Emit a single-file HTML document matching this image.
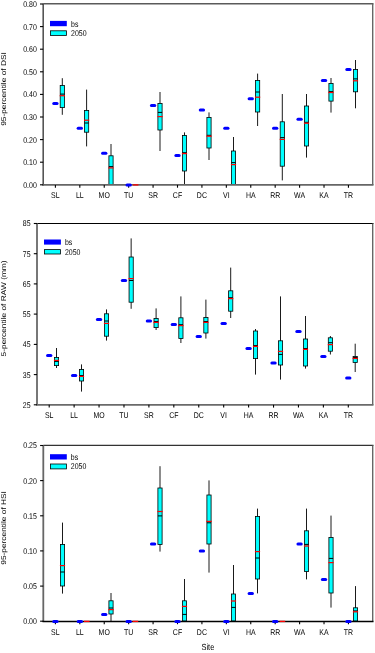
<!DOCTYPE html>
<html><head><meta charset="utf-8"><title>chart</title>
<style>html,body{margin:0;padding:0;background:#fff;}body{width:375px;height:653px;overflow:hidden;}</style>
</head><body>
<svg width="375" height="653" viewBox="0 0 375 653" style="display:block;will-change:transform;text-rendering:geometricPrecision;font-family:'Liberation Sans',sans-serif;font-size:70px;fill:#000">
<rect x="0" y="0" width="375" height="653" fill="#fff"/>
<g id="p1">
<path d="M43.2 3.8H373.5" stroke="#5a5a5a" stroke-width="1.4" fill="none"/>
<path d="M372.7 3.8V184.9" stroke="#666" stroke-width="1.4" fill="none"/>
<path d="M62.30 78.2V114.8" stroke="#000" stroke-width="0.9"/>
<rect x="60.20" y="85.50" width="4.20" height="22.10" fill="#00ffff" stroke="#000" stroke-width="0.8"/>
<path d="M60.20 94.1H64.40" stroke="#000" stroke-width="1"/>
<path d="M59.70 95.7H64.90" stroke="#ff0000" stroke-width="1.25"/>
<path d="M86.60 89.6V146.4" stroke="#000" stroke-width="0.9"/>
<rect x="84.50" y="110.40" width="4.20" height="21.80" fill="#00ffff" stroke="#000" stroke-width="0.8"/>
<path d="M84.50 123H88.70" stroke="#000" stroke-width="1"/>
<path d="M84.00 120.2H89.20" stroke="#ff0000" stroke-width="1.25"/>
<path d="M111.00 144V184.9" stroke="#000" stroke-width="0.9"/>
<rect x="108.90" y="155.80" width="4.20" height="28.70" fill="#00ffff" stroke="#000" stroke-width="0.8"/>
<path d="M108.90 166.6H113.10" stroke="#000" stroke-width="1"/>
<path d="M108.40 167.9H113.60" stroke="#ff0000" stroke-width="1.25"/>
<path d="M160.00 92V151" stroke="#000" stroke-width="0.9"/>
<rect x="157.90" y="103.40" width="4.20" height="26.60" fill="#00ffff" stroke="#000" stroke-width="0.8"/>
<path d="M157.90 112.4H162.10" stroke="#000" stroke-width="1"/>
<path d="M157.40 116.6H162.60" stroke="#ff0000" stroke-width="1.25"/>
<path d="M184.50 132.4V184.9" stroke="#000" stroke-width="0.9"/>
<rect x="182.40" y="135.40" width="4.20" height="35.60" fill="#00ffff" stroke="#000" stroke-width="0.8"/>
<path d="M182.40 152.7H186.60" stroke="#000" stroke-width="1"/>
<path d="M181.90 153.6H187.10" stroke="#ff0000" stroke-width="1.25"/>
<path d="M209.00 112.4V160" stroke="#000" stroke-width="0.9"/>
<rect x="206.90" y="117.40" width="4.20" height="30.60" fill="#00ffff" stroke="#000" stroke-width="0.8"/>
<path d="M206.90 135.29999999999998H211.10" stroke="#000" stroke-width="1"/>
<path d="M206.40 136.2H211.60" stroke="#ff0000" stroke-width="1.25"/>
<path d="M233.50 137V184.9" stroke="#000" stroke-width="0.9"/>
<rect x="231.40" y="151.00" width="4.20" height="33.50" fill="#00ffff" stroke="#000" stroke-width="0.8"/>
<path d="M231.40 162.6H235.60" stroke="#000" stroke-width="1"/>
<path d="M230.90 164.6H236.10" stroke="#ff0000" stroke-width="1.25"/>
<path d="M257.60 73.6V126" stroke="#000" stroke-width="0.9"/>
<rect x="255.50" y="80.40" width="4.20" height="31.60" fill="#00ffff" stroke="#000" stroke-width="0.8"/>
<path d="M255.50 92H259.70" stroke="#000" stroke-width="1"/>
<path d="M255.00 97.2H260.20" stroke="#ff0000" stroke-width="1.25"/>
<path d="M282.30 94V180.4" stroke="#000" stroke-width="0.9"/>
<rect x="280.20" y="121.80" width="4.20" height="44.40" fill="#00ffff" stroke="#000" stroke-width="0.8"/>
<path d="M280.20 137.6H284.40" stroke="#000" stroke-width="1"/>
<path d="M279.70 139.4H284.90" stroke="#ff0000" stroke-width="1.25"/>
<path d="M306.50 94V157.6" stroke="#000" stroke-width="0.9"/>
<rect x="304.40" y="106.00" width="4.20" height="40.00" fill="#00ffff" stroke="#000" stroke-width="0.8"/>
<path d="M304.40 122.3H308.60" stroke="#000" stroke-width="1"/>
<path d="M303.90 123.2H309.10" stroke="#ff0000" stroke-width="1.25"/>
<path d="M331.00 78V112.6" stroke="#000" stroke-width="0.9"/>
<rect x="328.90" y="83.40" width="4.20" height="17.70" fill="#00ffff" stroke="#000" stroke-width="0.8"/>
<path d="M328.90 91.6H333.10" stroke="#000" stroke-width="1"/>
<path d="M328.40 92.5H333.60" stroke="#ff0000" stroke-width="1.25"/>
<path d="M355.50 60V108.3" stroke="#000" stroke-width="0.9"/>
<rect x="353.40" y="69.50" width="4.20" height="22.30" fill="#00ffff" stroke="#000" stroke-width="0.8"/>
<path d="M353.40 78.9H357.60" stroke="#000" stroke-width="1"/>
<path d="M352.90 80.8H358.10" stroke="#ff0000" stroke-width="1.25"/>
<path d="M43.2 3.8V185.4" stroke="#555" stroke-width="1.6" fill="none"/>
<path d="M42.400000000000006 184.9H373.5" stroke="#666" stroke-width="1.8" fill="none"/>
<path d="M40.0 4.0H43.2" stroke="#000" stroke-width="1.1"/>
<text transform="translate(36.80 6.95) scale(0.1 0.1190)" text-anchor="end">0.80</text>
<path d="M40.0 26.6H43.2" stroke="#000" stroke-width="1.1"/>
<text transform="translate(36.80 29.55) scale(0.1 0.1190)" text-anchor="end">0.70</text>
<path d="M40.0 49.2H43.2" stroke="#000" stroke-width="1.1"/>
<text transform="translate(36.80 52.15) scale(0.1 0.1190)" text-anchor="end">0.60</text>
<path d="M40.0 71.8H43.2" stroke="#000" stroke-width="1.1"/>
<text transform="translate(36.80 74.75) scale(0.1 0.1190)" text-anchor="end">0.50</text>
<path d="M40.0 94.4H43.2" stroke="#000" stroke-width="1.1"/>
<text transform="translate(36.80 97.35) scale(0.1 0.1190)" text-anchor="end">0.40</text>
<path d="M40.0 117.0H43.2" stroke="#000" stroke-width="1.1"/>
<text transform="translate(36.80 119.95) scale(0.1 0.1190)" text-anchor="end">0.30</text>
<path d="M40.0 139.6H43.2" stroke="#000" stroke-width="1.1"/>
<text transform="translate(36.80 142.55) scale(0.1 0.1190)" text-anchor="end">0.20</text>
<path d="M40.0 162.2H43.2" stroke="#000" stroke-width="1.1"/>
<text transform="translate(36.80 165.15) scale(0.1 0.1190)" text-anchor="end">0.10</text>
<path d="M40.0 184.8H43.2" stroke="#000" stroke-width="1.1"/>
<text transform="translate(36.80 187.75) scale(0.1 0.1190)" text-anchor="end">0.00</text>
<path d="M55.40 184.9V187.70000000000002" stroke="#000" stroke-width="1.1"/>
<text transform="translate(55.40 197.9) scale(0.1 0.1190)" text-anchor="middle">SL</text>
<path d="M79.82 184.9V187.70000000000002" stroke="#000" stroke-width="1.1"/>
<text transform="translate(79.82 197.9) scale(0.1 0.1190)" text-anchor="middle">LL</text>
<path d="M104.24 184.9V187.70000000000002" stroke="#000" stroke-width="1.1"/>
<text transform="translate(104.24 197.9) scale(0.1 0.1190)" text-anchor="middle">MO</text>
<path d="M128.66 184.9V187.70000000000002" stroke="#000" stroke-width="1.1"/>
<text transform="translate(128.66 197.9) scale(0.1 0.1190)" text-anchor="middle">TU</text>
<path d="M153.08 184.9V187.70000000000002" stroke="#000" stroke-width="1.1"/>
<text transform="translate(153.08 197.9) scale(0.1 0.1190)" text-anchor="middle">SR</text>
<path d="M177.50 184.9V187.70000000000002" stroke="#000" stroke-width="1.1"/>
<text transform="translate(177.50 197.9) scale(0.1 0.1190)" text-anchor="middle">CF</text>
<path d="M201.92 184.9V187.70000000000002" stroke="#000" stroke-width="1.1"/>
<text transform="translate(201.92 197.9) scale(0.1 0.1190)" text-anchor="middle">DC</text>
<path d="M226.34 184.9V187.70000000000002" stroke="#000" stroke-width="1.1"/>
<text transform="translate(226.34 197.9) scale(0.1 0.1190)" text-anchor="middle">VI</text>
<path d="M250.76 184.9V187.70000000000002" stroke="#000" stroke-width="1.1"/>
<text transform="translate(250.76 197.9) scale(0.1 0.1190)" text-anchor="middle">HA</text>
<path d="M275.18 184.9V187.70000000000002" stroke="#000" stroke-width="1.1"/>
<text transform="translate(275.18 197.9) scale(0.1 0.1190)" text-anchor="middle">RR</text>
<path d="M299.60 184.9V187.70000000000002" stroke="#000" stroke-width="1.1"/>
<text transform="translate(299.60 197.9) scale(0.1 0.1190)" text-anchor="middle">WA</text>
<path d="M324.02 184.9V187.70000000000002" stroke="#000" stroke-width="1.1"/>
<text transform="translate(324.02 197.9) scale(0.1 0.1190)" text-anchor="middle">KA</text>
<path d="M348.44 184.9V187.70000000000002" stroke="#000" stroke-width="1.1"/>
<text transform="translate(348.44 197.9) scale(0.1 0.1190)" text-anchor="middle">TR</text>
<path d="M132.80 184.9H138.40" stroke="#ff0000" stroke-width="1.3"/>
<path d="M53.75 103.5H57.05" stroke="#0000ff" stroke-width="3" stroke-linecap="round"/>
<path d="M78.17 128.2H81.47" stroke="#0000ff" stroke-width="3" stroke-linecap="round"/>
<path d="M102.59 153.2H105.89" stroke="#0000ff" stroke-width="3" stroke-linecap="round"/>
<path d="M127.01 184.9H130.31" stroke="#0000ff" stroke-width="3" stroke-linecap="round"/>
<path d="M151.43 105.6H154.73" stroke="#0000ff" stroke-width="3" stroke-linecap="round"/>
<path d="M175.85 155.4H179.15" stroke="#0000ff" stroke-width="3" stroke-linecap="round"/>
<path d="M200.27 110H203.57" stroke="#0000ff" stroke-width="3" stroke-linecap="round"/>
<path d="M224.69 128.2H227.99" stroke="#0000ff" stroke-width="3" stroke-linecap="round"/>
<path d="M249.11 98.8H252.41" stroke="#0000ff" stroke-width="3" stroke-linecap="round"/>
<path d="M273.53 128.2H276.83" stroke="#0000ff" stroke-width="3" stroke-linecap="round"/>
<path d="M297.95 119.2H301.25" stroke="#0000ff" stroke-width="3" stroke-linecap="round"/>
<path d="M322.37 80.6H325.67" stroke="#0000ff" stroke-width="3" stroke-linecap="round"/>
<path d="M346.79 69.4H350.09" stroke="#0000ff" stroke-width="3" stroke-linecap="round"/>
<rect x="50" y="20.9" width="16.80" height="5.30" fill="#0000ff"/>
<rect x="50.4" y="30.799999999999997" width="16.00" height="4.60" fill="#00ffff" stroke="#000" stroke-width="0.8"/>
<text transform="translate(71.0 26.6) scale(0.1 0.1190)">bs</text>
<text transform="translate(71.0 35.9) scale(0.1 0.1190)">2050</text>
<text transform="translate(6.2 89.0) scale(0.1 0.1190) rotate(-90)" text-anchor="middle">95-percentile of DSI</text>
</g>
<g id="p2">
<path d="M37.0 223.5H373.5" stroke="#000" stroke-width="1.1" fill="none"/>
<path d="M372.7 223.5V404.8" stroke="#666" stroke-width="1.4" fill="none"/>
<path d="M56.50 348V368" stroke="#000" stroke-width="0.9"/>
<rect x="54.40" y="357.40" width="4.20" height="8.20" fill="#00ffff" stroke="#000" stroke-width="0.8"/>
<path d="M54.40 361.4H58.60" stroke="#000" stroke-width="1"/>
<path d="M53.90 360.4H59.10" stroke="#ff0000" stroke-width="1.25"/>
<path d="M81.50 364.4V391.6" stroke="#000" stroke-width="0.9"/>
<rect x="79.40" y="369.40" width="4.20" height="11.60" fill="#00ffff" stroke="#000" stroke-width="0.8"/>
<path d="M79.40 375.5H83.60" stroke="#000" stroke-width="1"/>
<path d="M78.90 376.4H84.10" stroke="#ff0000" stroke-width="1.25"/>
<path d="M106.50 309.4V340.6" stroke="#000" stroke-width="0.9"/>
<rect x="104.40" y="313.80" width="4.20" height="22.40" fill="#00ffff" stroke="#000" stroke-width="0.8"/>
<path d="M104.40 321H108.60" stroke="#000" stroke-width="1"/>
<path d="M103.90 323.4H109.10" stroke="#ff0000" stroke-width="1.25"/>
<path d="M131.15 238.4V308.8" stroke="#000" stroke-width="0.9"/>
<rect x="129.05" y="257.00" width="4.20" height="45.20" fill="#00ffff" stroke="#000" stroke-width="0.8"/>
<path d="M129.05 280.5H133.25" stroke="#000" stroke-width="1"/>
<path d="M128.55 278.6H133.75" stroke="#ff0000" stroke-width="1.25"/>
<path d="M156.10 308.4V330" stroke="#000" stroke-width="0.9"/>
<rect x="154.00" y="318.40" width="4.20" height="9.20" fill="#00ffff" stroke="#000" stroke-width="0.8"/>
<path d="M154.00 321.5H158.20" stroke="#000" stroke-width="1"/>
<path d="M153.50 322.4H158.70" stroke="#ff0000" stroke-width="1.25"/>
<path d="M180.90 296.4V343" stroke="#000" stroke-width="0.9"/>
<rect x="178.80" y="317.80" width="4.20" height="20.80" fill="#00ffff" stroke="#000" stroke-width="0.8"/>
<path d="M178.80 324.70000000000005H183.00" stroke="#000" stroke-width="1"/>
<path d="M178.30 325.6H183.50" stroke="#ff0000" stroke-width="1.25"/>
<path d="M205.90 299.6V338.6" stroke="#000" stroke-width="0.9"/>
<rect x="203.80" y="317.40" width="4.20" height="15.60" fill="#00ffff" stroke="#000" stroke-width="0.8"/>
<path d="M203.80 321.5H208.00" stroke="#000" stroke-width="1"/>
<path d="M203.30 322.4H208.50" stroke="#ff0000" stroke-width="1.25"/>
<path d="M230.70 267.6V318" stroke="#000" stroke-width="0.9"/>
<rect x="228.60" y="290.80" width="4.20" height="20.40" fill="#00ffff" stroke="#000" stroke-width="0.8"/>
<path d="M228.60 297.70000000000005H232.80" stroke="#000" stroke-width="1"/>
<path d="M228.10 298.6H233.30" stroke="#ff0000" stroke-width="1.25"/>
<path d="M255.50 329V374.6" stroke="#000" stroke-width="0.9"/>
<rect x="253.40" y="331.00" width="4.20" height="27.60" fill="#00ffff" stroke="#000" stroke-width="0.8"/>
<path d="M253.40 345.5H257.60" stroke="#000" stroke-width="1"/>
<path d="M252.90 346.4H258.10" stroke="#ff0000" stroke-width="1.25"/>
<path d="M280.50 296.4V379.6" stroke="#000" stroke-width="0.9"/>
<rect x="278.40" y="340.80" width="4.20" height="24.20" fill="#00ffff" stroke="#000" stroke-width="0.8"/>
<path d="M278.40 354.4H282.60" stroke="#000" stroke-width="1"/>
<path d="M277.90 351.4H283.10" stroke="#ff0000" stroke-width="1.25"/>
<path d="M305.50 316V368.6" stroke="#000" stroke-width="0.9"/>
<rect x="303.40" y="339.00" width="4.20" height="27.00" fill="#00ffff" stroke="#000" stroke-width="0.8"/>
<path d="M303.40 348.5H307.60" stroke="#000" stroke-width="1"/>
<path d="M302.90 349.4H308.10" stroke="#ff0000" stroke-width="1.25"/>
<path d="M330.40 336V354.5" stroke="#000" stroke-width="0.9"/>
<rect x="328.30" y="337.80" width="4.20" height="13.40" fill="#00ffff" stroke="#000" stroke-width="0.8"/>
<path d="M328.30 342.7H332.50" stroke="#000" stroke-width="1"/>
<path d="M327.80 344.6H333.00" stroke="#ff0000" stroke-width="1.25"/>
<path d="M355.20 343.7V372" stroke="#000" stroke-width="0.9"/>
<rect x="353.10" y="356.40" width="4.20" height="6.10" fill="#00ffff" stroke="#000" stroke-width="0.8"/>
<path d="M353.10 357.5H357.30" stroke="#000" stroke-width="1"/>
<path d="M352.60 358.4H357.80" stroke="#ff0000" stroke-width="1.25"/>
<path d="M37.0 223.5V405.3" stroke="#777" stroke-width="2.0" fill="none"/>
<path d="M36.2 404.8H373.5" stroke="#6a6a6a" stroke-width="1.8" fill="none"/>
<path d="M33.8 223.5H37.0" stroke="#000" stroke-width="1.1"/>
<text transform="translate(30.60 226.45) scale(0.1 0.1190)" text-anchor="end">85</text>
<path d="M33.8 253.7H37.0" stroke="#000" stroke-width="1.1"/>
<text transform="translate(30.60 256.65) scale(0.1 0.1190)" text-anchor="end">75</text>
<path d="M33.8 283.9H37.0" stroke="#000" stroke-width="1.1"/>
<text transform="translate(30.60 286.85) scale(0.1 0.1190)" text-anchor="end">65</text>
<path d="M33.8 314.1H37.0" stroke="#000" stroke-width="1.1"/>
<text transform="translate(30.60 317.05) scale(0.1 0.1190)" text-anchor="end">55</text>
<path d="M33.8 344.4H37.0" stroke="#000" stroke-width="1.1"/>
<text transform="translate(30.60 347.35) scale(0.1 0.1190)" text-anchor="end">45</text>
<path d="M33.8 374.6H37.0" stroke="#000" stroke-width="1.1"/>
<text transform="translate(30.60 377.55) scale(0.1 0.1190)" text-anchor="end">35</text>
<path d="M33.8 404.8H37.0" stroke="#000" stroke-width="1.1"/>
<text transform="translate(30.60 407.75) scale(0.1 0.1190)" text-anchor="end">25</text>
<path d="M49.20 404.8V407.6" stroke="#000" stroke-width="1.1"/>
<text transform="translate(49.20 418.4) scale(0.1 0.1190)" text-anchor="middle">SL</text>
<path d="M74.12 404.8V407.6" stroke="#000" stroke-width="1.1"/>
<text transform="translate(74.12 418.4) scale(0.1 0.1190)" text-anchor="middle">LL</text>
<path d="M99.05 404.8V407.6" stroke="#000" stroke-width="1.1"/>
<text transform="translate(99.05 418.4) scale(0.1 0.1190)" text-anchor="middle">MO</text>
<path d="M123.98 404.8V407.6" stroke="#000" stroke-width="1.1"/>
<text transform="translate(123.98 418.4) scale(0.1 0.1190)" text-anchor="middle">TU</text>
<path d="M148.90 404.8V407.6" stroke="#000" stroke-width="1.1"/>
<text transform="translate(148.90 418.4) scale(0.1 0.1190)" text-anchor="middle">SR</text>
<path d="M173.82 404.8V407.6" stroke="#000" stroke-width="1.1"/>
<text transform="translate(173.82 418.4) scale(0.1 0.1190)" text-anchor="middle">CF</text>
<path d="M198.75 404.8V407.6" stroke="#000" stroke-width="1.1"/>
<text transform="translate(198.75 418.4) scale(0.1 0.1190)" text-anchor="middle">DC</text>
<path d="M223.68 404.8V407.6" stroke="#000" stroke-width="1.1"/>
<text transform="translate(223.68 418.4) scale(0.1 0.1190)" text-anchor="middle">VI</text>
<path d="M248.60 404.8V407.6" stroke="#000" stroke-width="1.1"/>
<text transform="translate(248.60 418.4) scale(0.1 0.1190)" text-anchor="middle">HA</text>
<path d="M273.53 404.8V407.6" stroke="#000" stroke-width="1.1"/>
<text transform="translate(273.53 418.4) scale(0.1 0.1190)" text-anchor="middle">RR</text>
<path d="M298.45 404.8V407.6" stroke="#000" stroke-width="1.1"/>
<text transform="translate(298.45 418.4) scale(0.1 0.1190)" text-anchor="middle">WA</text>
<path d="M323.38 404.8V407.6" stroke="#000" stroke-width="1.1"/>
<text transform="translate(323.38 418.4) scale(0.1 0.1190)" text-anchor="middle">KA</text>
<path d="M348.30 404.8V407.6" stroke="#000" stroke-width="1.1"/>
<text transform="translate(348.30 418.4) scale(0.1 0.1190)" text-anchor="middle">TR</text>
<path d="M47.55 355.4H50.85" stroke="#0000ff" stroke-width="3" stroke-linecap="round"/>
<path d="M72.47 375.4H75.78" stroke="#0000ff" stroke-width="3" stroke-linecap="round"/>
<path d="M97.40 319.6H100.70" stroke="#0000ff" stroke-width="3" stroke-linecap="round"/>
<path d="M122.33 280.6H125.63" stroke="#0000ff" stroke-width="3" stroke-linecap="round"/>
<path d="M147.25 321H150.55" stroke="#0000ff" stroke-width="3" stroke-linecap="round"/>
<path d="M172.17 324.4H175.47" stroke="#0000ff" stroke-width="3" stroke-linecap="round"/>
<path d="M197.10 336.4H200.40" stroke="#0000ff" stroke-width="3" stroke-linecap="round"/>
<path d="M222.03 323.6H225.33" stroke="#0000ff" stroke-width="3" stroke-linecap="round"/>
<path d="M246.95 348.4H250.25" stroke="#0000ff" stroke-width="3" stroke-linecap="round"/>
<path d="M271.88 363H275.18" stroke="#0000ff" stroke-width="3" stroke-linecap="round"/>
<path d="M296.80 331.4H300.10" stroke="#0000ff" stroke-width="3" stroke-linecap="round"/>
<path d="M321.73 356.6H325.02" stroke="#0000ff" stroke-width="3" stroke-linecap="round"/>
<path d="M346.65 378.1H349.95" stroke="#0000ff" stroke-width="3" stroke-linecap="round"/>
<rect x="44" y="239.5" width="16.90" height="5.10" fill="#0000ff"/>
<rect x="44.4" y="249.6" width="16.10" height="4.40" fill="#00ffff" stroke="#000" stroke-width="0.8"/>
<text transform="translate(64.9 244.8) scale(0.1 0.1190)">bs</text>
<text transform="translate(64.9 254.5) scale(0.1 0.1190)">2050</text>
<text transform="translate(6.2 308.4) scale(0.1 0.1190) rotate(-90)" text-anchor="middle">5-percentile of RAW (mm)</text>
</g>
<g id="p3">
<path d="M43.3 445.4H373.5" stroke="#333" stroke-width="1.3" fill="none"/>
<path d="M372.7 445.4V621.4" stroke="#666" stroke-width="1.4" fill="none"/>
<path d="M62.50 522.6V593.6" stroke="#000" stroke-width="0.9"/>
<rect x="60.40" y="544.40" width="4.20" height="41.60" fill="#00ffff" stroke="#000" stroke-width="0.8"/>
<path d="M60.40 572H64.60" stroke="#000" stroke-width="1"/>
<path d="M59.90 565.6H65.10" stroke="#ff0000" stroke-width="1.25"/>
<path d="M111.00 593V621.4" stroke="#000" stroke-width="0.9"/>
<rect x="108.90" y="600.80" width="4.20" height="13.20" fill="#00ffff" stroke="#000" stroke-width="0.8"/>
<path d="M108.90 608H113.10" stroke="#000" stroke-width="1"/>
<path d="M108.40 609.6H113.60" stroke="#ff0000" stroke-width="1.25"/>
<path d="M160.00 466.2V551.6" stroke="#000" stroke-width="0.9"/>
<rect x="157.90" y="488.00" width="4.20" height="56.50" fill="#00ffff" stroke="#000" stroke-width="0.8"/>
<path d="M157.90 515.9H162.10" stroke="#000" stroke-width="1"/>
<path d="M157.40 511.5H162.60" stroke="#ff0000" stroke-width="1.25"/>
<path d="M184.50 579V621.4" stroke="#000" stroke-width="0.9"/>
<rect x="182.40" y="600.80" width="4.20" height="20.20" fill="#00ffff" stroke="#000" stroke-width="0.8"/>
<path d="M182.40 614.4H186.60" stroke="#000" stroke-width="1"/>
<path d="M181.90 606.4H187.10" stroke="#ff0000" stroke-width="1.25"/>
<path d="M209.00 480.4V572.6" stroke="#000" stroke-width="0.9"/>
<rect x="206.90" y="495.00" width="4.20" height="49.00" fill="#00ffff" stroke="#000" stroke-width="0.8"/>
<path d="M206.90 522.8H211.10" stroke="#000" stroke-width="1"/>
<path d="M206.40 521.4H211.60" stroke="#ff0000" stroke-width="1.25"/>
<path d="M233.50 565V621.4" stroke="#000" stroke-width="0.9"/>
<rect x="231.40" y="594.00" width="4.20" height="27.00" fill="#00ffff" stroke="#000" stroke-width="0.8"/>
<path d="M231.40 607.4H235.60" stroke="#000" stroke-width="1"/>
<path d="M230.90 601H236.10" stroke="#ff0000" stroke-width="1.25"/>
<path d="M257.50 508.6V593.4" stroke="#000" stroke-width="0.9"/>
<rect x="255.40" y="516.40" width="4.20" height="62.60" fill="#00ffff" stroke="#000" stroke-width="0.8"/>
<path d="M255.40 558H259.60" stroke="#000" stroke-width="1"/>
<path d="M254.90 551.6H260.10" stroke="#ff0000" stroke-width="1.25"/>
<path d="M306.50 508.6V579.4" stroke="#000" stroke-width="0.9"/>
<rect x="304.40" y="530.80" width="4.20" height="40.80" fill="#00ffff" stroke="#000" stroke-width="0.8"/>
<path d="M304.40 544.4H308.60" stroke="#000" stroke-width="1"/>
<path d="M303.90 546H309.10" stroke="#ff0000" stroke-width="1.25"/>
<path d="M331.00 515.6V607.6" stroke="#000" stroke-width="0.9"/>
<rect x="328.90" y="537.40" width="4.20" height="55.60" fill="#00ffff" stroke="#000" stroke-width="0.8"/>
<path d="M328.90 558.4H333.10" stroke="#000" stroke-width="1"/>
<path d="M328.40 562.6H333.60" stroke="#ff0000" stroke-width="1.25"/>
<path d="M355.50 586.1V621.4" stroke="#000" stroke-width="0.9"/>
<rect x="353.40" y="607.80" width="4.20" height="13.20" fill="#00ffff" stroke="#000" stroke-width="0.8"/>
<path d="M353.40 610.9H357.60" stroke="#000" stroke-width="1"/>
<path d="M352.90 611.8H358.10" stroke="#ff0000" stroke-width="1.25"/>
<path d="M43.3 445.4V621.9" stroke="#666" stroke-width="1.8" fill="none"/>
<path d="M42.5 621.4H373.5" stroke="#000" stroke-width="1.5" fill="none"/>
<path d="M40.099999999999994 445.5H43.3" stroke="#000" stroke-width="1.1"/>
<text transform="translate(36.90 448.45) scale(0.1 0.1190)" text-anchor="end">0.25</text>
<path d="M40.099999999999994 480.6H43.3" stroke="#000" stroke-width="1.1"/>
<text transform="translate(36.90 483.55) scale(0.1 0.1190)" text-anchor="end">0.20</text>
<path d="M40.099999999999994 515.8H43.3" stroke="#000" stroke-width="1.1"/>
<text transform="translate(36.90 518.75) scale(0.1 0.1190)" text-anchor="end">0.15</text>
<path d="M40.099999999999994 550.9H43.3" stroke="#000" stroke-width="1.1"/>
<text transform="translate(36.90 553.85) scale(0.1 0.1190)" text-anchor="end">0.10</text>
<path d="M40.099999999999994 586.1H43.3" stroke="#000" stroke-width="1.1"/>
<text transform="translate(36.90 589.05) scale(0.1 0.1190)" text-anchor="end">0.05</text>
<path d="M40.099999999999994 621.2H43.3" stroke="#000" stroke-width="1.1"/>
<text transform="translate(36.90 624.15) scale(0.1 0.1190)" text-anchor="end">0.00</text>
<path d="M55.40 621.4V624.1999999999999" stroke="#000" stroke-width="1.1"/>
<text transform="translate(55.40 635.0) scale(0.1 0.1190)" text-anchor="middle">SL</text>
<path d="M79.82 621.4V624.1999999999999" stroke="#000" stroke-width="1.1"/>
<text transform="translate(79.82 635.0) scale(0.1 0.1190)" text-anchor="middle">LL</text>
<path d="M104.24 621.4V624.1999999999999" stroke="#000" stroke-width="1.1"/>
<text transform="translate(104.24 635.0) scale(0.1 0.1190)" text-anchor="middle">MO</text>
<path d="M128.66 621.4V624.1999999999999" stroke="#000" stroke-width="1.1"/>
<text transform="translate(128.66 635.0) scale(0.1 0.1190)" text-anchor="middle">TU</text>
<path d="M153.08 621.4V624.1999999999999" stroke="#000" stroke-width="1.1"/>
<text transform="translate(153.08 635.0) scale(0.1 0.1190)" text-anchor="middle">SR</text>
<path d="M177.50 621.4V624.1999999999999" stroke="#000" stroke-width="1.1"/>
<text transform="translate(177.50 635.0) scale(0.1 0.1190)" text-anchor="middle">CF</text>
<path d="M201.92 621.4V624.1999999999999" stroke="#000" stroke-width="1.1"/>
<text transform="translate(201.92 635.0) scale(0.1 0.1190)" text-anchor="middle">DC</text>
<path d="M226.34 621.4V624.1999999999999" stroke="#000" stroke-width="1.1"/>
<text transform="translate(226.34 635.0) scale(0.1 0.1190)" text-anchor="middle">VI</text>
<path d="M250.76 621.4V624.1999999999999" stroke="#000" stroke-width="1.1"/>
<text transform="translate(250.76 635.0) scale(0.1 0.1190)" text-anchor="middle">HA</text>
<path d="M275.18 621.4V624.1999999999999" stroke="#000" stroke-width="1.1"/>
<text transform="translate(275.18 635.0) scale(0.1 0.1190)" text-anchor="middle">RR</text>
<path d="M299.60 621.4V624.1999999999999" stroke="#000" stroke-width="1.1"/>
<text transform="translate(299.60 635.0) scale(0.1 0.1190)" text-anchor="middle">WA</text>
<path d="M324.02 621.4V624.1999999999999" stroke="#000" stroke-width="1.1"/>
<text transform="translate(324.02 635.0) scale(0.1 0.1190)" text-anchor="middle">KA</text>
<path d="M348.44 621.4V624.1999999999999" stroke="#000" stroke-width="1.1"/>
<text transform="translate(348.44 635.0) scale(0.1 0.1190)" text-anchor="middle">TR</text>
<path d="M84.00 621.4H89.60" stroke="#ff0000" stroke-width="1.3"/>
<path d="M132.60 621.4H138.20" stroke="#ff0000" stroke-width="1.3"/>
<path d="M279.60 621.4H285.20" stroke="#ff0000" stroke-width="1.3"/>
<path d="M53.75 621.4H57.05" stroke="#0000ff" stroke-width="3" stroke-linecap="round"/>
<path d="M78.17 621.4H81.47" stroke="#0000ff" stroke-width="3" stroke-linecap="round"/>
<path d="M102.59 614.4H105.89" stroke="#0000ff" stroke-width="3" stroke-linecap="round"/>
<path d="M127.01 621.4H130.31" stroke="#0000ff" stroke-width="3" stroke-linecap="round"/>
<path d="M151.43 544H154.73" stroke="#0000ff" stroke-width="3" stroke-linecap="round"/>
<path d="M175.85 621.4H179.15" stroke="#0000ff" stroke-width="3" stroke-linecap="round"/>
<path d="M200.27 551H203.57" stroke="#0000ff" stroke-width="3" stroke-linecap="round"/>
<path d="M224.69 621.4H227.99" stroke="#0000ff" stroke-width="3" stroke-linecap="round"/>
<path d="M249.11 593.4H252.41" stroke="#0000ff" stroke-width="3" stroke-linecap="round"/>
<path d="M273.53 621.4H276.83" stroke="#0000ff" stroke-width="3" stroke-linecap="round"/>
<path d="M297.95 544H301.25" stroke="#0000ff" stroke-width="3" stroke-linecap="round"/>
<path d="M322.37 579.4H325.67" stroke="#0000ff" stroke-width="3" stroke-linecap="round"/>
<path d="M346.79 621.4H350.09" stroke="#0000ff" stroke-width="3" stroke-linecap="round"/>
<rect x="50" y="454.2" width="16.80" height="5.30" fill="#0000ff"/>
<rect x="50.4" y="464.0" width="16.00" height="4.90" fill="#00ffff" stroke="#000" stroke-width="0.8"/>
<text transform="translate(70.8 459.6) scale(0.1 0.1190)">bs</text>
<text transform="translate(70.8 469.4) scale(0.1 0.1190)">2050</text>
<text transform="translate(6.2 527.9) scale(0.1 0.1190) rotate(-90)" text-anchor="middle">95-percentile of HSI</text>
</g>
<text transform="translate(207.9 650) scale(0.1 0.1190)" text-anchor="middle" style="font-size:75px">Site</text>
</svg>
</body></html>
